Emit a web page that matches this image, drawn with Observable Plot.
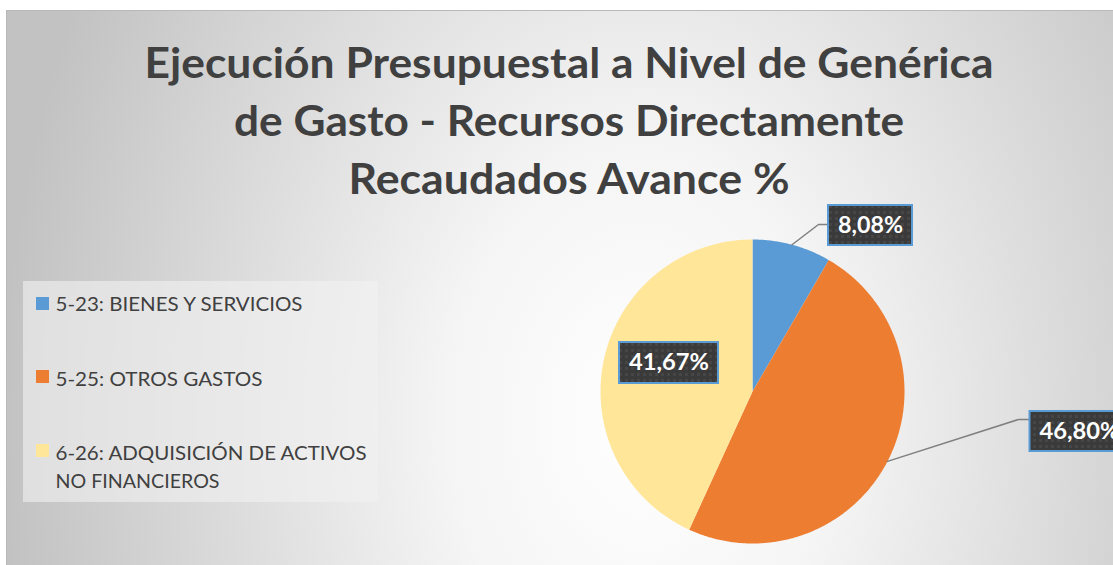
<!DOCTYPE html>
<html>
<head>
<meta charset="utf-8">
<script src="https://cdn.jsdelivr.net/npm/d3@7"></script>
<script src="https://cdn.jsdelivr.net/npm/@observablehq/plot@0.6"></script>
<style>
  html, body { margin: 0; padding: 0; background: #ffffff; }
  #chart { position: relative; width: 1113px; height: 565px; overflow: hidden; background: #ffffff; }
  #bg { position: absolute; left: 6px; top: 10px; right: -2px; bottom: -2px;
        border-left: 1px solid #b9b9b9; border-top: 1px solid #b9b9b9;
        background: radial-gradient(ellipse 640px 900px at 634px 410px, #ffffff 0%, #f5f5f5 30%, #c2c2c2 100%); }
  #plot { position: absolute; left: 0; top: 0; }
</style>
</head>
<body>
<div id="chart"><div id="bg"></div><div id="plot"></div></div>
<script>
// ---- data ----
const categories = ["5-23: BIENES Y SERVICIOS", "5-25: OTROS GASTOS", "6-26: ADQUISICIÓN DE ACTIVOS NO FINANCIEROS"];
const values = [8.08, 46.80, 41.67];
const valueLabels = ["8,08%", "46,80%", "41,67%"];
const colors = ["#5b9bd5", "#ed7d31", "#ffe699"];
const titleLines = ["Ejecución Presupuestal a Nivel de Genérica", "de Gasto - Recursos Directamente", "Recaudados Avance %"];
const legendLines = [["5-23: BIENES Y SERVICIOS"], ["5-25: OTROS GASTOS"], ["6-26: ADQUISICIÓN DE ACTIVOS", "NO FINANCIEROS"]];

// ---- layout (pixels) ----
const W = 1113, H = 565;
const PIE = {cx: 752, cy: 391, r: 152};
const TITLE = {x: 568.5, y: [63.6, 121.6, 179.6], len: [849, 670, 441], size: 42};
const LEGEND = {box: [23, 378, 281, 502], sw: [36, 49], swY: [303.5, 376.5, 450.5], swH: 13,
                textX: 55, textY: [[304.3], [378.6], [452.6, 480.6]], size: 20,
                len: [[247], [207], [311, 164]]};
const LABELS = [
  {cx: 870, cy: 225, w: 84, h: 40, leader: [[818, 224], [828, 224]], len: 65},
  {cx: 1079, cy: 431, w: 99, h: 40, leader: [[1018, 419], [1030, 419]], len: 80},
  {cx: 668.5, cy: 362.5, w: 99, h: 41, leader: null, len: 80}
];

// ---- pie geometry from data ----
const arcs = d3.pie().sort(null)(values);
const pt = (a, rr = PIE.r) => ({x: PIE.cx + rr * Math.sin(a), y: PIE.cy - rr * Math.cos(a)});
const slices = arcs.map((a, i) => {
  const pts = [{x: PIE.cx, y: PIE.cy}];
  const n = Math.max(2, Math.ceil((a.endAngle - a.startAngle) / (Math.PI / 360)));
  for (let k = 0; k <= n; k++) pts.push(pt(a.startAngle + (a.endAngle - a.startAngle) * k / n));
  pts.push({x: PIE.cx, y: PIE.cy});
  return pts;
});
const leaders = arcs.map((a, i) => {
  const L = LABELS[i];
  if (!L.leader) return null;
  const mid = (a.startAngle + a.endAngle) / 2;
  return [pt(mid), {x: L.leader[0][0], y: L.leader[0][1]}, {x: L.leader[1][0], y: L.leader[1][1]}];
}).filter(d => d);

const boxes = valueLabels.map((t, i) => ({label: t, x1: LABELS[i].cx - LABELS[i].w / 2, x2: LABELS[i].cx + LABELS[i].w / 2,
  y1: LABELS[i].cy - LABELS[i].h / 2, y2: LABELS[i].cy + LABELS[i].h / 2, x: LABELS[i].cx, y: LABELS[i].cy}));

const titleData = titleLines.map((t, i) => ({text: t, x: TITLE.x, y: TITLE.y[i]}));
const swatches = categories.map((c, i) => ({cat: c, x1: LEGEND.sw[0], x2: LEGEND.sw[1],
  y1: LEGEND.swY[i] - LEGEND.swH / 2, y2: LEGEND.swY[i] + LEGEND.swH / 2}));
const legendText = legendLines.flatMap((lines, i) => lines.map((t, j) => ({text: t, x: LEGEND.textX, y: LEGEND.textY[i][j]})));

const plot = Plot.plot({
  width: W, height: H, margin: 0,
  x: {domain: [0, W], range: [0, W], axis: null},
  y: {domain: [0, H], range: [0, H], axis: null},
  color: {domain: categories, range: colors},
  style: {background: "transparent", overflow: "visible"},
  marks: [
    // legend box
    Plot.rect([LEGEND.box], {x1: d => d[0], x2: d => d[1], y1: d => d[2], y2: d => d[3], fill: "#f2f2f2", fillOpacity: 0.6}),
    Plot.rect(swatches, {x1: "x1", x2: "x2", y1: "y1", y2: "y2", fill: "cat"}),
    Plot.text(legendText, {x: "x", y: "y", text: "text", textAnchor: "start", fontSize: LEGEND.size,
      fontFamily: "Lato, 'Noto Sans', sans-serif", fill: "#404040"}),
    // title
    Plot.text(titleData, {x: "x", y: "y", text: "text", fontSize: TITLE.size, fontWeight: "bold",
      fontFamily: "Lato, 'Noto Sans', sans-serif", fill: "#404040"}),
    // pie slices
    ...slices.map((s, i) => Plot.line(s, {x: "x", y: "y", fill: colors[i], stroke: "none", curve: "linear"})),
    // leader lines
    ...leaders.map(l => Plot.line(l, {x: "x", y: "y", stroke: "#7f7f7f", strokeWidth: 1.5})),
    // label boxes
    Plot.rect(boxes, {x1: "x1", x2: "x2", y1: "y1", y2: "y2", fill: "url(#dots)", stroke: "#5b9bd5", strokeWidth: 2}),
    Plot.text(boxes, {x: "x", y: "y", text: "label", fontSize: 23, fontWeight: "bold",
      fontFamily: "Lato, 'Noto Sans', sans-serif", fill: "#ffffff"})
  ]
});

// defs: pattern + shadow
const svg = d3.select(plot);
const defs = svg.insert("defs", ":first-child");
const pat = defs.append("pattern").attr("id", "dots").attr("width", 6).attr("height", 6).attr("patternUnits", "userSpaceOnUse");
pat.append("rect").attr("width", 6).attr("height", 6).attr("fill", "#3a3a3a");
pat.append("rect").attr("x", 1).attr("y", 1).attr("width", 3).attr("height", 3).attr("fill", "#464646");
const f = defs.append("filter").attr("id", "shadow").attr("x", "-20%").attr("y", "-20%").attr("width", "150%").attr("height", "160%");
f.append("feDropShadow").attr("dx", 3).attr("dy", 3).attr("stdDeviation", 2.5).attr("flood-color", "#000").attr("flood-opacity", 0.45);
svg.selectAll("rect").filter(function() { return (this.getAttribute("fill") || "").startsWith("url(#dots"); })
  .attr("filter", "url(#shadow)");

// fit text widths
const fit = new Map();
titleLines.forEach((t, i) => fit.set(t, TITLE.len[i]));
legendLines.forEach((lines, i) => lines.forEach((t, j) => fit.set(t, LEGEND.len[i][j])));
valueLabels.forEach((t, i) => fit.set(t, LABELS[i].len));
svg.selectAll("text").each(function() {
  const t = this.textContent;
  if (fit.has(t)) d3.select(this).attr("textLength", fit.get(t)).attr("lengthAdjust", "spacingAndGlyphs");
});

document.getElementById("plot").appendChild(plot);
</script>
</body>
</html>
